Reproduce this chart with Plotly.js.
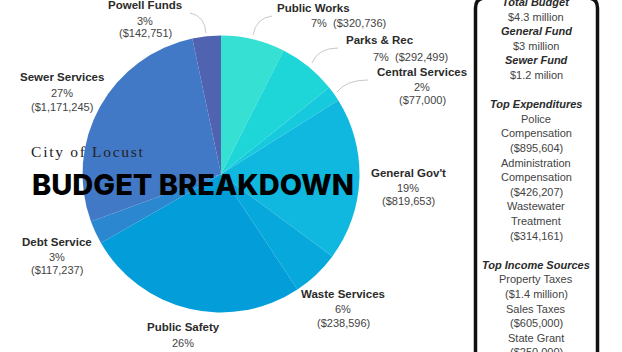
<!DOCTYPE html>
<html><head><meta charset="utf-8">
<script src="https://cdn.plot.ly/plotly-3.0.1.min.js"></script>
<style>
html,body{margin:0;padding:0;background:#fff;overflow:hidden;}
#chart{width:622px;height:352px;}
g.annotation[data-index="0"] text.annotation-text{letter-spacing:1.7px;}
</style></head><body><div id="chart"></div>
<script>
// ---- data ----
const categories = ["Public Works","Parks & Rec","Central Services","General Gov't","Waste Services","Public Safety","Debt Service","Sewer Services","Powell Funds"];
const amounts = [320736, 292499, 77000, 819653, 238596, 1117000, 117237, 1171245, 142751];
const percentLabels = ["7%","7%","2%","19%","6%","26%","3%","27%","3%"];
const amountLabels = ["($320,736)","($292,499)","($77,000)","($819,653)","($238,596)","","($117,237)","($1,171,245)","($142,751)"];
const sidebarLines = ["Total Budget","$4.3 million","General Fund","$3 million","Sewer Fund","$1.2 milion","",
  "Top Expenditures","Police","Compensation","($895,604)","Administration","Compensation","($426,207)","Wastewater","Treatment","($314,161)","",
  "Top Income Sources","Property Taxes","($1.4 million)","Sales Taxes","($605,000)","State Grant","($250,000)"];
const sidebarHeaders = ["Total Budget","General Fund","Sewer Fund","Top Expenditures","Top Income Sources"];
const titleSmall = "City of Locust";
const titleBig = "BUDGET BREAKDOWN";

// ---- style / layout ----
const sliceColors = ["#36e0d2","#1ed6d8","#16c9dd","#10b8e0","#07a9dc","#039ed9","#2b87cf","#4279c7","#5063b0"];
const W = 622, H = 352;
const px = x => x / W, py = y => 1 - y / H;
// label positions in pixels: [title, line2, line3] centers, with combined second line flag
const labelPos = [
  {t:[313,8], l:[[348,23]], join:true},
  {t:[380,40], l:[[410,57]], join:true},
  {t:[422,72], l:[[422,87],[422,100]]},
  {t:[408,173], l:[[408,188],[408,201]]},
  {t:[343,294], l:[[343,309],[343,323]]},
  {t:[183,327], l:[[183,343],[183,357]]},
  {t:[57,242], l:[[57,257],[57,270]]},
  {t:[62,77], l:[[62,93],[62,107]]},
  {t:[145,5], l:[[145,21],[145,33]]}
];
const leaderPaths = [
  [[272,16],[256,18],[253,35]],
  [[338,48],[318,48],[312,63]],
  [[368,80],[346,80],[337,92]],
  [[190,13],[205,16],[206,33]]
];

const annotations = [];
annotations.push({text:titleSmall, x:px(88), y:py(151), xref:'paper', yref:'paper', xanchor:'center', yanchor:'middle', showarrow:false,
  font:{family:'Liberation Serif, serif', size:15.5, color:'#222'}});
annotations.push({text:titleBig, x:px(192.5), y:py(184), xref:'paper', yref:'paper', xanchor:'center', yanchor:'middle', showarrow:false,
  font:{family:'Inter, Open Sans, sans-serif', size:29, color:'#000', weight:800}});

const labFont = {family:'Liberation Sans, Arial, sans-serif', size:11, color:'#444'};
const labBold = {family:'Liberation Sans, Arial, sans-serif', size:11.5, color:'#2b2b2b'};
categories.forEach((c, i) => {
  const p = labelPos[i];
  annotations.push({text:'<b>'+c+'</b>', x:px(p.t[0]), y:py(p.t[1]), xref:'paper', yref:'paper', xanchor:'center', yanchor:'middle', showarrow:false, font:labBold});
  if (p.join) {
    annotations.push({text:percentLabels[i]+'\u00a0 '+amountLabels[i], x:px(p.l[0][0]), y:py(p.l[0][1]), xref:'paper', yref:'paper', xanchor:'center', yanchor:'middle', showarrow:false, font:labFont});
  } else {
    annotations.push({text:percentLabels[i], x:px(p.l[0][0]), y:py(p.l[0][1]), xref:'paper', yref:'paper', xanchor:'center', yanchor:'middle', showarrow:false, font:labFont});
    if (amountLabels[i]) annotations.push({text:amountLabels[i], x:px(p.l[1][0]), y:py(p.l[1][1]), xref:'paper', yref:'paper', xanchor:'center', yanchor:'middle', showarrow:false, font:labFont});
  }
});

sidebarLines.forEach((s, i) => {
  if (!s) return;
  const hdr = sidebarHeaders.includes(s);
  annotations.push({text: hdr ? '<b><i>'+s+'</i></b>' : s, x:px(536), y:py(2 + i*14.6), xref:'paper', yref:'paper', xanchor:'center', yanchor:'middle', showarrow:false,
    font:{family:'Liberation Sans, Arial, sans-serif', size: hdr ? 11 : 11, color: hdr ? '#2b2b2b' : '#444'}});
});

const shapes = leaderPaths.map(pts => ({
  type:'path', xref:'paper', yref:'paper',
  path:`M${px(pts[0][0])},${py(pts[0][1])} Q${px(pts[1][0])},${py(pts[1][1])} ${px(pts[2][0])},${py(pts[2][1])}`,
  line:{color:'#c8c8c8', width:1}
}));
// sidebar box with rounded top corners
const bx0 = 475.5, bx1 = 597.5, bt = -2, r = 10, bb = 370;
shapes.push({type:'path', xref:'paper', yref:'paper', layer:'above',
  path:`M${px(bx0)},${py(bb)} L${px(bx0)},${py(bt+r)} Q${px(bx0)},${py(bt)} ${px(bx0+r)},${py(bt)} L${px(bx1-r)},${py(bt)} Q${px(bx1)},${py(bt)} ${px(bx1)},${py(bt+r)} L${px(bx1)},${py(bb)}`,
  line:{color:'#111', width:3.5}});

const trace = {
  type:'pie', labels:categories, values:amounts, sort:false, direction:'clockwise', rotation:0,
  marker:{colors:sliceColors, line:{width:0}}, textinfo:'none', hoverinfo:'none',
  domain:{x:[px(82.5), px(359.5)], y:[py(312.5), py(35.5)]}, showlegend:false
};

Plotly.newPlot('chart', [trace], {
  width:W, height:H, margin:{l:0,r:0,t:0,b:0}, paper_bgcolor:'#fff', plot_bgcolor:'#fff',
  showlegend:false, annotations:annotations, shapes:shapes
}, {displayModeBar:false, staticPlot:true});
</script></body></html>
